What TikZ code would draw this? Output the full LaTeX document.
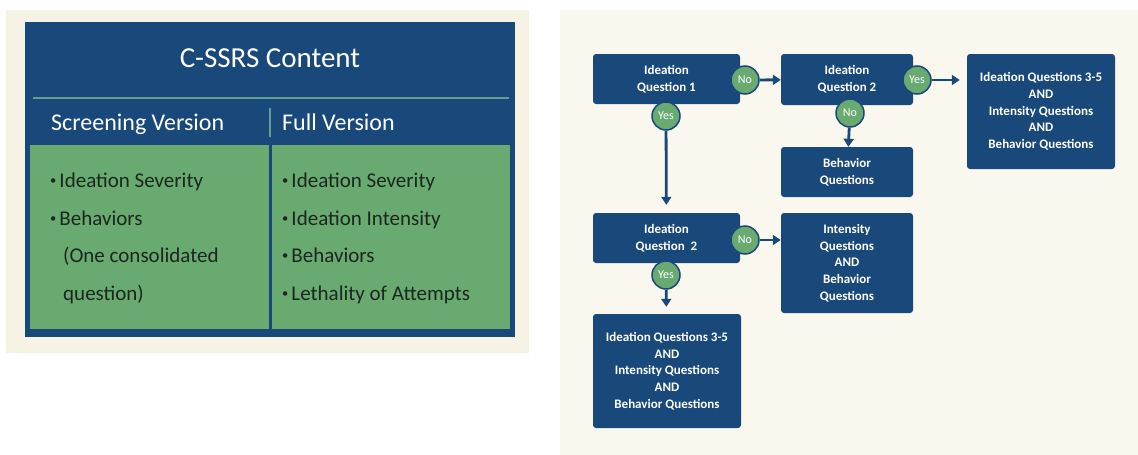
\documentclass[tikz,border=0pt]{standalone}
\usepackage{fontspec}
\setmainfont{Carlito}
\usetikzlibrary{arrows.meta}

\definecolor{navy}{HTML}{19487A}
\definecolor{leaf}{HTML}{68AA70}
\definecolor{creamL}{HTML}{F7F3E4}
\definecolor{creamR}{HTML}{FAF7EF}
\definecolor{rulegreen}{HTML}{5FA08E}
\definecolor{ink}{HTML}{1C2620}

\newcommand{\dotitem}{\raisebox{2.8pt}{\scalebox{0.6}{\textbullet}}\hspace{3pt}}

\begin{document}
\begin{tikzpicture}[x=1pt,y=-1pt]
		\tikzset{box/.style={rectangle,
				rounded corners=3pt,
				fill=navy, text=white,
				align=center, inner sep=0pt,
				font=\fontsize{13}{16.7}\selectfont\bfseries},
			ans/.style={circle, fill=leaf, draw=navy, line width=1.5pt,
				text=white, minimum size=28pt, inner sep=0pt,
				font=\fontsize{12}{12}\selectfont},
			arr/.style={navy, line width=2.8pt, -{Triangle[length=8pt,width=10pt]}},
			item/.style={anchor=base west, text=ink, inner sep=0pt,
				font=\fontsize{21}{21}\selectfont},
			head/.style={anchor=base west, text=white, inner sep=0pt,
				font=\fontsize{24}{24}\selectfont}}
		
		\useasboundingbox[fill=white] (0,0) rectangle (1138,455);
		
		% Left panel: the content table
		\fill[creamL] (6,10) rectangle (529,353);
		\fill[navy] (25,22) rectangle (515,337);
		\draw[rulegreen, line width=1.2pt] (33,98) -- (509,98);
		\draw[rulegreen, line width=1.2pt] (270,108) -- (270,137);
		\fill[leaf] (30,145) rectangle (269,329);
		\fill[leaf] (272,145) rectangle (510,329);
		
		\node[text=white, inner sep=0pt, anchor=base, font=\fontsize{29}{29}\selectfont]
			(title) at (270,67) {C-SSRS Content};
		\node[head] (screen) at (51,130) {Screening Version};
		\node[head] (full) at (282,130) {Full Version};
		
		\node[item] (s1) at (50,187) {\dotitem Ideation Severity};
		\node[item] (s2) at (50,225) {\dotitem Behaviors};
		\node[item] (s3) at (63,262) {(One consolidated};
		\node[item] (s4) at (63,300) {question)};
		
		\node[item] (f1) at (282,187) {\dotitem Ideation Severity};
		\node[item] (f2) at (282,225) {\dotitem Ideation Intensity};
		\node[item] (f3) at (282,262) {\dotitem Behaviors};
		\node[item] (f4) at (282,300) {\dotitem Lethality of Attempts};
		
		% Right panel: the flow chart
		\fill[creamR] (560,10) rectangle (1138,455);
		
		\node[box, minimum width=147pt, minimum height=50pt] at (666.5,79)  (q1) {Ideation\\Question 1};
		\node[box, minimum width=132pt, minimum height=51pt] at (847,79.5)  (q2) {Ideation\\Question 2};
		\node[box, minimum width=148pt, minimum height=115pt] at (1041,111.5) (all1) {Ideation Questions 3-5\\AND\\Intensity Questions\\AND\\Behavior Questions};
		\node[box, minimum width=132pt, minimum height=50pt] at (847,172) (beh) {Behavior\\Questions};
		\node[box, minimum width=147pt, minimum height=50pt] at (666.5,238) (q2b) {Ideation\\Question\ \ 2};
		\node[box, minimum width=132pt, minimum height=100pt] at (847,263) (inten) {Intensity\\Questions\\AND\\Behavior\\Questions};
		\node[box, minimum width=148pt, minimum height=114pt] at (667,371) (all2) {Ideation Questions 3-5\\AND\\Intensity Questions\\AND\\Behavior Questions};
		
		% Answers
		\node[ans] at (745,80)    (no1)  {No};
		\node[ans] at (917,80)    (yes2) {Yes};
		\node[ans] at (850,113)   (no2)  {No};
		\node[ans] at (666,116)   (yes1) {Yes};
		\node[ans] at (745,240)   (no3)  {No};
		\node[ans] at (666,275)   (yes3) {Yes};
		
		% Connect the answers with the boxes
		\draw[arr] (no1) -- (q2);
		\draw[arr, shorten >=7pt] (yes2) -- (yes2 -| all1.west);
		\draw[arr] (no2) -- (beh);
		\draw[arr, shorten >=8pt] (yes1) -- (q2b);
		\draw[arr] (no3) -- (no3 -| inten.west);
		\draw[arr, shorten >=7pt] (yes3) -- (all2);
		
\end{tikzpicture}
\end{document}
